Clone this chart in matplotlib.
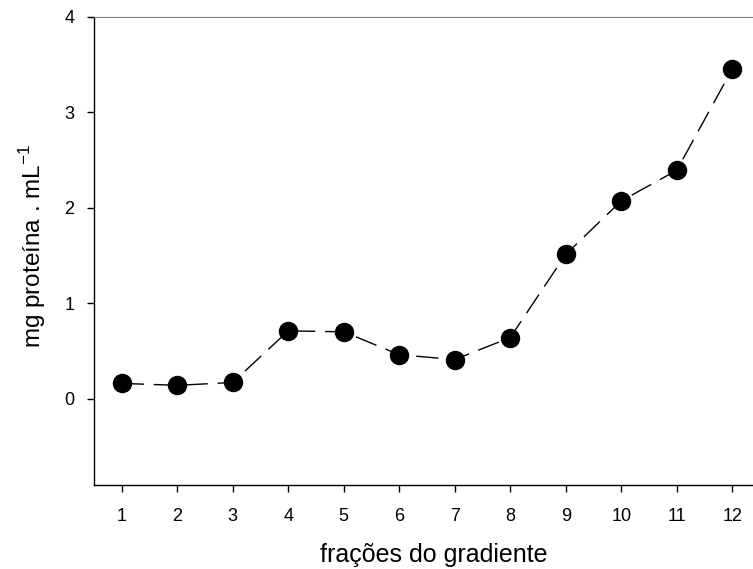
import matplotlib
matplotlib.use("Agg")
import matplotlib.pyplot as plt

# fraction number vs protein concentration
fractions = [1, 2, 3, 4, 5, 6, 7, 8, 9, 10, 11, 12]
protein = [0.16, 0.14, 0.17, 0.71, 0.70, 0.46, 0.41, 0.64, 1.51, 2.07, 2.39, 3.45]
yticks = [0, 1, 2, 3, 4]

plt.rcParams['font.family'] = ['Liberation Sans', 'DejaVu Sans']

fig = plt.figure(figsize=(7.53, 5.69), dpi=100)
# axes box runs slightly past the right edge, like the cropped original
ax = fig.add_axes([94 / 753, 1 - 484.7 / 569, 666 / 753, (484.7 - 16.5) / 569])

ax.plot(fractions, protein, color='black', linewidth=1.0, dashes=(16, 7),
        marker='o', markersize=13, markerfacecolor='black', markeredgecolor='black')

ax.set_xlim(0.5, 12.5)
ax.set_ylim(-0.9, 4)
ax.set_xticks(fractions)
ax.set_yticks(yticks)

ax.spines['right'].set_visible(False)
ax.spines['top'].set_color('#808080')
ax.spines['left'].set_linewidth(1.0)
ax.spines['bottom'].set_linewidth(1.0)

ax.tick_params(axis='both', direction='out', length=5, width=1, labelsize=13)
ax.tick_params(axis='y', pad=9)
ax.tick_params(axis='x', pad=12)

ax.set_xlabel('frações do gradiente', fontsize=18, labelpad=12)
ax.xaxis.set_label_coords(0.51, -0.125)
ax.set_ylabel('mg proteína . mL$^{\\mathregular{-1}}$', fontsize=17.5)
ax.yaxis.set_label_coords(-0.069, 0.51)

fig.savefig('out.png', dpi=100)
